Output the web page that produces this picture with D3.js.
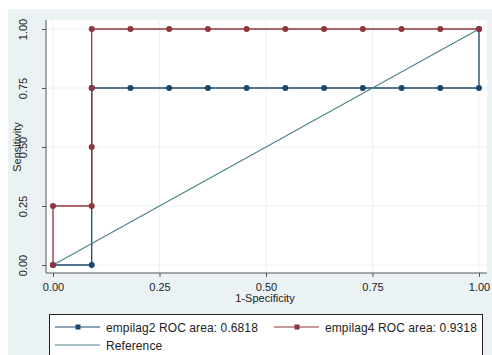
<!DOCTYPE html>
<html><head><meta charset="utf-8">
<script src="https://cdn.jsdelivr.net/npm/d3@7"></script>
<style>body{margin:0;background:#fff}svg{display:block;font-family:"Liberation Sans",Arial,sans-serif}</style>
</head><body><svg id="c" width="492" height="355"></svg>
<script>
const xTicks = [0, 0.25, 0.5, 0.75, 1];
const yTicks = [0, 0.25, 0.5, 0.75, 1];
const tickLabels = ["0.00", "0.25", "0.50", "0.75", "1.00"];
const empilag2X = [0, 1/11, 1/11, 2/11, 3/11, 4/11, 5/11, 6/11, 7/11, 8/11, 9/11, 10/11, 1, 1];
const empilag2Y = [0, 0, 0.75, 0.75, 0.75, 0.75, 0.75, 0.75, 0.75, 0.75, 0.75, 0.75, 0.75, 1];
const empilag4X = [0, 0, 1/11, 1/11, 1/11, 1/11, 2/11, 3/11, 4/11, 5/11, 6/11, 7/11, 8/11, 9/11, 10/11, 1];
const empilag4Y = [0, 0.25, 0.25, 0.5, 0.75, 1, 1, 1, 1, 1, 1, 1, 1, 1, 1, 1];
const refX = [0, 1];
const refY = [0, 1];
const legendLabels = ["empilag2 ROC area: 0.6818", "empilag4 ROC area: 0.9318", "Reference"];

const svg = d3.select("#c");
const blue = "#1a476f", red = "#90353b", teal = "#4d7f86";
svg.append("rect").attr("x", 8).attr("y", 9).attr("width", 484).attr("height", 346).attr("fill", "#eaf2f3");
svg.append("rect").attr("x", 46).attr("y", 20).attr("width", 441).attr("height", 253).attr("fill", "#fff");

const x = d3.scaleLinear().domain([0, 1]).range([53, 479]);
const y = d3.scaleLinear().domain([0, 1]).range([265, 29]);

// grid
svg.append("g").selectAll("line").data(yTicks).join("line")
  .attr("x1", 46).attr("x2", 487).attr("y1", d => y(d)).attr("y2", d => y(d))
  .attr("stroke", "#eaf2f3").attr("stroke-width", 1);
svg.append("g").selectAll("line").data(xTicks).join("line")
  .attr("y1", 20).attr("y2", 273).attr("x1", d => x(d)).attr("x2", d => x(d))
  .attr("stroke", "#eaf2f3").attr("stroke-width", 1);

// axes
const xAxis = d3.axisBottom(x).tickValues(xTicks).tickFormat((d, i) => tickLabels[i]).tickSize(4).tickPadding(6);
const gx = svg.append("g").attr("transform", "translate(0,273)").call(xAxis);
gx.select(".domain").attr("d", "M46,0H487").attr("stroke", "#555");
gx.selectAll(".tick line").attr("stroke", "#555");
gx.selectAll(".tick text").attr("font-size", 11).attr("fill", "#222").attr("font-family", "Liberation Sans, Arial, sans-serif");

const yAxis = d3.axisLeft(y).tickValues(yTicks).tickFormat((d, i) => tickLabels[i]).tickSize(4);
const gy = svg.append("g").attr("transform", "translate(46,0)").call(yAxis);
gy.select(".domain").attr("d", "M0,20V273").attr("stroke", "#555");
gy.selectAll(".tick line").attr("stroke", "#555");
gy.selectAll(".tick text").attr("font-size", 11).attr("fill", "#222").attr("font-family", "Liberation Sans, Arial, sans-serif")
  .attr("x", null).attr("dy", null).attr("text-anchor", "middle")
  .attr("transform", "translate(-19,0) rotate(-90)");

// axis titles
svg.append("text").attr("x", 265).attr("y", 302).attr("text-anchor", "middle").attr("font-size", 11).attr("fill", "#222").text("1-Specificity");
svg.append("text").attr("transform", "translate(21,147) rotate(-90)").attr("text-anchor", "middle").attr("font-size", 11).attr("fill", "#222").text("Sensitivity");

const line = d3.line().x(d => x(d[0])).y(d => y(d[1]));
const s2 = empilag2X.map((v, i) => [v, empilag2Y[i]]);
const s4 = empilag4X.map((v, i) => [v, empilag4Y[i]]);
const sr = refX.map((v, i) => [v, refY[i]]);

svg.append("path").attr("d", line(s2)).attr("fill", "none").attr("stroke", blue).attr("stroke-width", 1.3);
svg.append("path").attr("d", line(s4)).attr("fill", "none").attr("stroke", red).attr("stroke-width", 1.3);
svg.append("path").attr("d", line(sr)).attr("fill", "none").attr("stroke", teal).attr("stroke-width", 1.1);
svg.append("g").selectAll("circle").data(s2).join("circle")
  .attr("cx", d => x(d[0])).attr("cy", d => y(d[1])).attr("r", 3).attr("fill", blue);
svg.append("g").selectAll("circle").data(s4).join("circle")
  .attr("cx", d => x(d[0])).attr("cy", d => y(d[1])).attr("r", 3).attr("fill", red);

// legend
svg.append("rect").attr("x", 49.5).attr("y", 314.5).attr("width", 433).attr("height", 50).attr("fill", "#fff").attr("stroke", "#222");
const leg = [
  {lx: 55, ly: 327, c: blue, m: true, t: legendLabels[0]},
  {lx: 274, ly: 327, c: red, m: true, t: legendLabels[1]},
  {lx: 55, ly: 345, c: teal, m: false, t: legendLabels[2]}
];
const lg = svg.append("g");
leg.forEach(d => {
  lg.append("line").attr("x1", d.lx).attr("x2", d.lx + 45).attr("y1", d.ly).attr("y2", d.ly).attr("stroke", d.c).attr("stroke-width", 1.2);
  if (d.m) lg.append("rect").attr("x", d.lx + 20.5).attr("y", d.ly - 2.5).attr("width", 5).attr("height", 5).attr("fill", d.c);
  lg.append("text").attr("x", d.lx + 51).attr("y", d.ly + 4.5).attr("font-size", 12).attr("letter-spacing", 0.1).attr("fill", "#222").text(d.t);
});
</script></body></html>
